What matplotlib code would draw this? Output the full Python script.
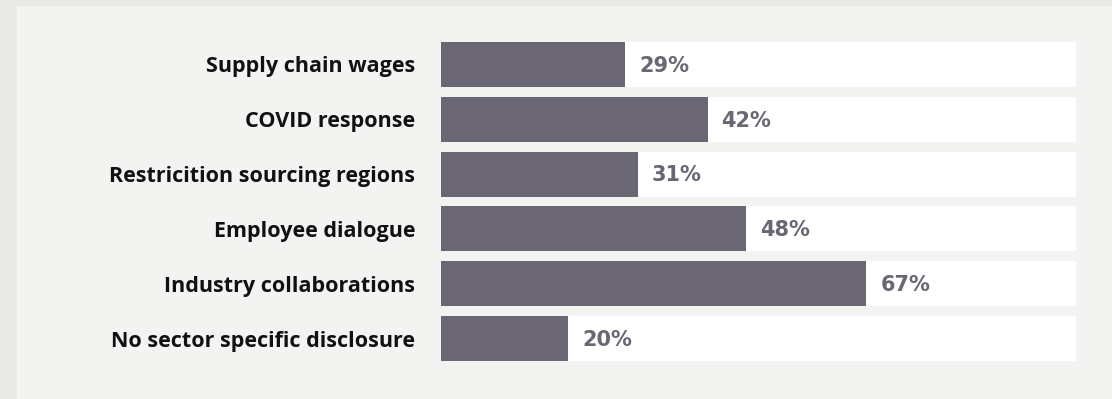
import matplotlib.pyplot as plt
from matplotlib.patches import Rectangle

categories = [
    "Supply chain wages",
    "COVID response",
    "Restricition sourcing regions",
    "Employee dialogue",
    "Industry collaborations",
    "No sector specific disclosure",
]
values = [29, 42, 31, 48, 67, 20]

W, H, DPI = 1112, 399, 100
bar_color = "#6b6673"

fig = plt.figure(figsize=(W / DPI, H / DPI), dpi=DPI, facecolor="#e9e9e8")
# lighter panel behind the chart
fig.patches.append(Rectangle((17 / W, 0), 1, (H - 6) / H, transform=fig.transFigure,
                             facecolor="#f3f3f2", edgecolor="none", zorder=-5))

ax = fig.add_axes([441 / W, (H - 361) / H, 635 / W, 319 / H])
ax.set_facecolor("none")

h = 0.82
ypos = list(range(len(categories)))
ax.barh(ypos, [100] * len(values), height=h, color="white", zorder=1)
ax.barh(ypos, values, height=h, color=bar_color, zorder=2)

for y, v in zip(ypos, values):
    ax.annotate(f"{v}%", (v, y), xytext=(10, -1), textcoords="offset points",
                ha="left", va="center", fontsize=15, fontweight="bold",
                family="DejaVu Sans", color=bar_color, zorder=3)

ax.set_xlim(0, 100)
ax.set_ylim(len(categories) - 1 + h / 2, -h / 2)
ax.set_yticks(ypos)
ax.set_yticklabels(categories, fontsize=15.5, fontweight="bold", family="Open Sans", color="#111111")
ax.tick_params(axis="y", length=0, pad=18.5)
ax.set_xticks([])
for s in ax.spines.values():
    s.set_visible(False)

fig.savefig("out.png", dpi=DPI, facecolor=fig.get_facecolor())
